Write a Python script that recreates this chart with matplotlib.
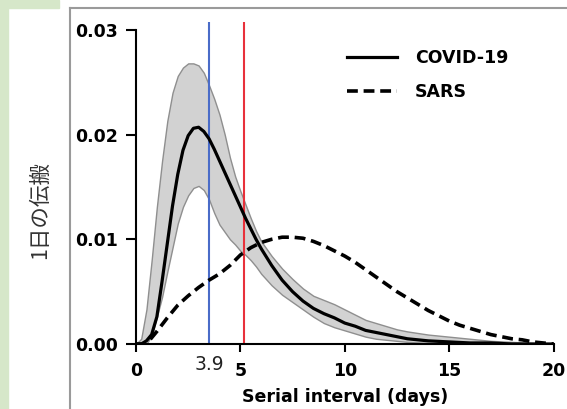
import numpy as np
import matplotlib.pyplot as plt
from matplotlib.patches import Rectangle
from matplotlib.lines import Line2D

# serial interval (days)
x_covid = [0, 0.25, 0.5, 0.75, 1.0, 1.25, 1.5, 1.75, 2.0, 2.25, 2.5, 2.75,
           3.0, 3.25, 3.5, 3.75, 4.0, 4.25, 4.5, 4.75, 5.0, 5.25, 5.5, 5.75,
           6.0, 6.5, 7.0, 7.5, 8.0, 8.5, 9.0, 9.5, 10.0, 10.5, 11.0, 11.5,
           12.0, 12.5, 13.0, 14.0, 15.0, 16.0, 17.0, 18.0, 19.0, 20.0]
covid_mean = [0, 0, 0.0003, 0.0009, 0.0026, 0.0060, 0.0096, 0.0132, 0.0162,
              0.0185, 0.0199, 0.0206, 0.0207, 0.0203, 0.0196, 0.0186, 0.0175,
              0.0164, 0.0153, 0.0142, 0.0131, 0.0120, 0.0110, 0.0100, 0.0091,
              0.0075, 0.0061, 0.0050, 0.0041, 0.0034, 0.0029, 0.0025, 0.0020,
              0.0017, 0.0013, 0.0011, 0.0009, 0.0007, 0.0005, 0.0003, 0.0002,
              0.0001, 0.0001, 0, 0, 0]
covid_upper = [0, 0.0005, 0.0033, 0.0080, 0.0131, 0.0175, 0.0213, 0.0240,
               0.0256, 0.0264, 0.0268, 0.0268, 0.0266, 0.0259, 0.0247, 0.0234,
               0.0219, 0.0200, 0.0178, 0.0160, 0.0146, 0.0133, 0.0120, 0.0108,
               0.0098, 0.0084, 0.0072, 0.0062, 0.0053, 0.0046, 0.0042, 0.0038,
               0.0033, 0.0028, 0.0023, 0.0020, 0.0017, 0.0014, 0.0012, 0.0009,
               0.0007, 0.0005, 0.0003, 0.0002, 0.0001, 0]
covid_lower = [0, 0, 0, 0.0008, 0.0026, 0.0045, 0.0069, 0.0092, 0.0115,
               0.0131, 0.0142, 0.0149, 0.0151, 0.0147, 0.0138, 0.0125, 0.0114,
               0.0107, 0.0100, 0.0095, 0.0089, 0.0085, 0.0080, 0.0074, 0.0067,
               0.0056, 0.0047, 0.0040, 0.0033, 0.0026, 0.0020, 0.0016, 0.0013,
               0.0010, 0.0007, 0.0005, 0.0004, 0.0003, 0.0002, 0.0001, 0,
               0, 0, 0, 0, 0]

x_sars = [0, 0.5, 1.0, 1.5, 2.0, 2.5, 3.0, 3.5, 4.0, 4.5, 5.0, 5.5, 6.0, 6.5,
          7.0, 7.5, 8.0, 8.5, 9.0, 9.5, 10.0, 10.5, 11.0, 11.5, 12.0, 12.5,
          13.0, 13.5, 14.0, 14.5, 15.0, 15.5, 16.0, 16.5, 17.0, 17.5, 18.0,
          18.5, 19.0, 19.5, 20.0]
sars = [0, 0, 0.0012, 0.0025, 0.0037, 0.0046, 0.0054, 0.0061, 0.0067, 0.0075,
        0.0085, 0.0092, 0.0097, 0.0100, 0.0102, 0.0102, 0.0101, 0.0098,
        0.0094, 0.0089, 0.0084, 0.0078, 0.0071, 0.0064, 0.0057, 0.0050,
        0.0044, 0.0038, 0.0032, 0.0027, 0.0022, 0.0018, 0.0015, 0.0012,
        0.0009, 0.0007, 0.0005, 0.0004, 0.0002, 0.0001, 0]

blue_x = 3.5
red_x = 5.15
x_ticks = [0, 5, 10, 15, 20]
y_ticks = [0.00, 0.01, 0.02, 0.03]

fig = plt.figure(figsize=(5.67, 4.09), dpi=100)

# page background around the figure panel
green = '#d6e7c9'
fig.patches.append(Rectangle((0, 0), 8 / 567, 1, transform=fig.transFigure,
                             color=green, zorder=-5))
fig.patches.append(Rectangle((0, 1 - 8 / 409), 59 / 567, 8 / 409,
                             transform=fig.transFigure, color=green, zorder=-5))
fig.add_artist(Line2D([70 / 567, 70 / 567], [0, 1 - 8 / 409],
                      transform=fig.transFigure, color='#9a9a9a', lw=1.5))
fig.add_artist(Line2D([70 / 567, 1], [1 - 8 / 409, 1 - 8 / 409],
                      transform=fig.transFigure, color='#9a9a9a', lw=1.5))

ax = fig.add_axes([136 / 567, 65 / 409, 417.5 / 567, 322.5 / 409])
ax.set_xlim(0, 20)
ax.set_ylim(0, 0.0308)
ax.patch.set_alpha(0)

ax.fill_between(x_covid, covid_lower, covid_upper, color='#d2d2d2',
                edgecolor='#8f8f8f', lw=1, zorder=1)
ax.plot(x_covid, covid_mean, color='black', lw=2.3, zorder=3,
        label='COVID-19')
ax.plot(x_sars, sars, color='black', lw=2.6, dashes=(3.0, 1.6), zorder=3,
        label='SARS')
ax.axvline(blue_x, color='#4a6cc8', lw=1.5, zorder=2)
ax.axvline(red_x, color='#e8313b', lw=1.5, zorder=2)

for s in ['top', 'right']:
    ax.spines[s].set_visible(False)
ax.spines['left'].set_bounds(0, 0.03)
ax.spines['bottom'].set_bounds(0, 20)
ax.spines['left'].set_linewidth(1.5)
ax.spines['bottom'].set_linewidth(1.5)

ax.set_yticks(y_ticks)
ax.set_yticklabels(['%.2f' % v for v in y_ticks], fontweight='bold',
                   fontsize=12.5)
ax.set_xticks(x_ticks)
ax.set_xticklabels([str(v) for v in x_ticks], fontweight='bold',
                   fontsize=12.5)
ax.tick_params(axis='y', length=7, width=1.5, pad=6)
ax.tick_params(axis='x', length=6, width=1.5, pad=7)
ax.text(blue_x, -0.0020, '3.9', ha='center', va='center', fontsize=13.5,
        color='#222222', transform=ax.transData)

ax.set_xlabel('Serial interval (days)', fontweight='bold', fontsize=12.5,
              labelpad=6)
fig.text(40 / 567, 1 - 210 / 409, '1日の伝搬', rotation=90, ha='center',
         va='center', fontsize=15.5, color='#333333',
         family=['Noto Sans CJK JP', 'DejaVu Sans'])

ax.legend(loc='upper left', bbox_to_anchor=(347 / 567, 1 - 49 / 409),
          bbox_transform=fig.transFigure, frameon=False,
          prop={'weight': 'bold', 'size': 12.5}, handlelength=2.9,
          handletextpad=1.0, labelspacing=0.95, borderpad=0,
          borderaxespad=0)

fig.savefig('out.png', dpi=100)
